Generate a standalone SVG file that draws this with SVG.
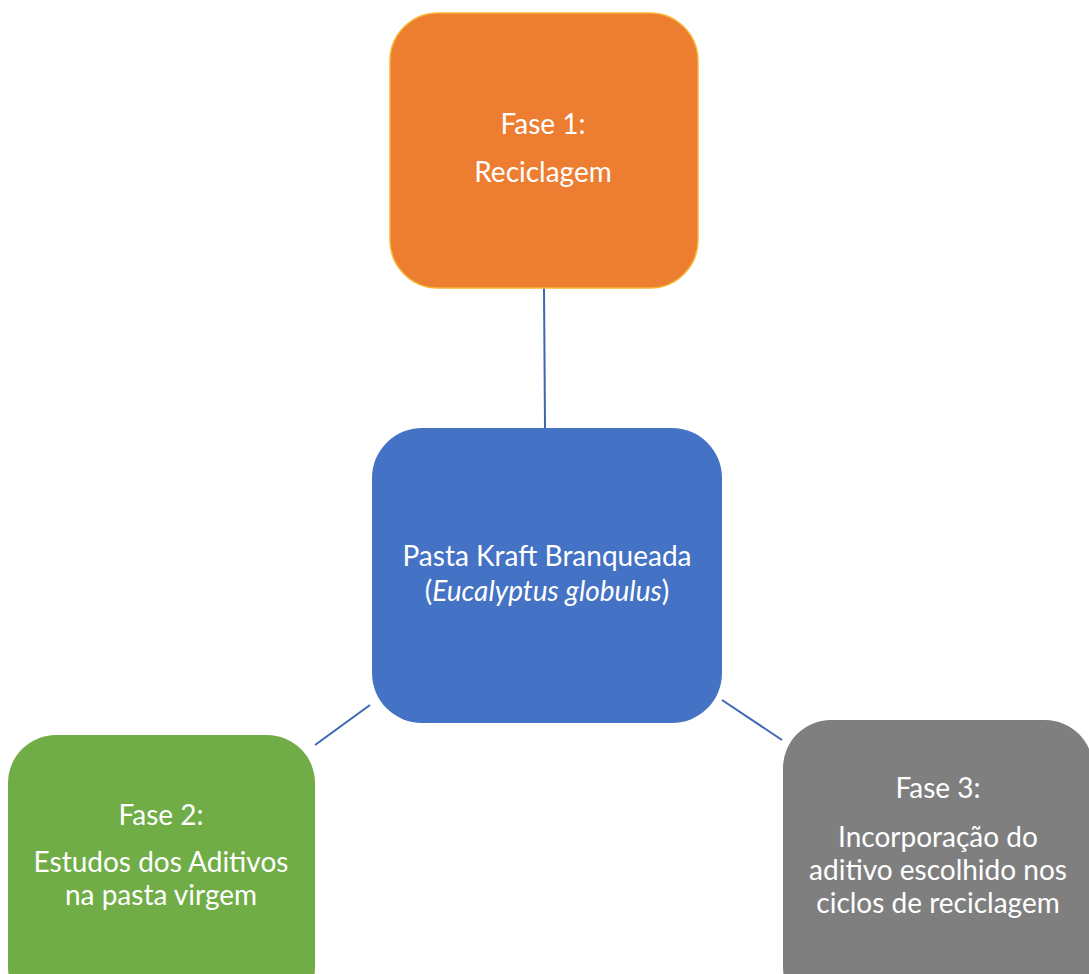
<svg xmlns="http://www.w3.org/2000/svg" width="1089" height="974" viewBox="0 0 1089 974">
<style>
.t{font-family:Lato,"Open Sans","Liberation Sans",sans-serif;font-size:28px;fill:#ffffff;text-anchor:middle}
.c{stroke:#3f66b0;stroke-width:2;fill:none}
</style>
<rect width="1089" height="974" fill="#ffffff"/>
<g id="connectors">
<line class="c" x1="544" y1="288" x2="545" y2="428"/>
<line class="c" x1="370" y1="705" x2="315" y2="745"/>
<line class="c" x1="722" y1="700" x2="782" y2="740"/>
</g>
<g id="fase1">
<rect x="390" y="13" width="308" height="275" rx="48" fill="#ed7d31" stroke="#f7b731" stroke-width="1.5"/>
<text class="t" x="543" y="134">Fase 1:</text>
<text class="t" x="543" y="182">Reciclagem</text>
</g>
<g id="pasta">
<rect x="372" y="428" width="350" height="295" rx="50" fill="#4472c4"/>
<text class="t" x="547" y="566">Pasta Kraft Branqueada</text>
<text class="t" x="547" y="601">(<tspan font-style="italic">Eucalyptus globulus</tspan>)</text>
</g>
<g id="fase2">
<rect x="8" y="735" width="307" height="280" rx="48" fill="#70ad47"/>
<text class="t" x="161" y="825">Fase 2:</text>
<text class="t" x="161" y="872">Estudos dos Aditivos</text>
<text class="t" x="161" y="905">na pasta virgem</text>
</g>
<g id="fase3">
<rect x="783" y="720" width="310" height="295" rx="48" fill="#7f7f7f"/>
<text class="t" x="938" y="798">Fase 3:</text>
<text class="t" x="938" y="847">Incorporação do</text>
<text class="t" x="938" y="880">aditivo escolhido nos</text>
<text class="t" x="938" y="913">ciclos de reciclagem</text>
</g>
</svg>
